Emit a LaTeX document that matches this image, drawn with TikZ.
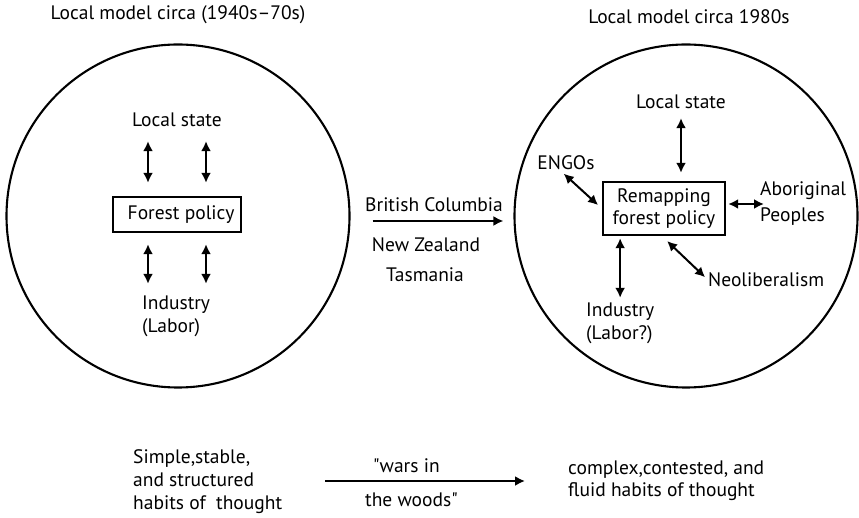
\documentclass[tikz,border=0pt]{standalone}
\usepackage{fontspec}
\setmainfont{PT Sans}
\newfontfamily\quotefont{PT Sans}
\usepackage{tikz}
\usetikzlibrary{arrows.meta, positioning, calc}
\tikzstyle{lbl} = [inner sep=0pt, align=left, font=\fontsize{19.5}{23}\selectfont]
\tikzstyle{policy} = [draw, rectangle, line width=2.4pt, inner sep=0pt, align=center, font=\fontsize{19.5}{22}\selectfont]
\tikzstyle{world} = [draw, circle, line width=2.1pt, minimum size=343pt, inner sep=0pt]
\tikzstyle{dbl} = [draw, {Latex[length=10pt,width=10pt]}-{Latex[length=10pt,width=10pt]}, line width=2pt]
\tikzstyle{arrow} = [draw, -{Latex[length=10pt,width=10pt]}, line width=2pt]

\begin{document}
\begin{tikzpicture}[x=1pt, y=-1pt]
    \useasboundingbox (0,0) rectangle (859,518);

    % Titles and circles
    \node (title1) [lbl] at (178,15) {Local model circa (1940s--70s)};
    \node (title2) [lbl] at (689,17) {Local model circa 1980s};
    \node (old) [world] at (178,216) {};
    \node (new) [world] at (686,216) {};

    % Old model
    \node (state1) [lbl] at (177,120) {Local state};
    \node (fp) [policy, minimum width=128pt, minimum height=35pt] at (177,214.5) {\hspace{8pt}Forest policy};
    \node (ind1) [lbl, anchor=west] at (142,316.5) {Industry\\(Labor)};

    \foreach \dx in {-29,29} {
        \draw [dbl, shorten <=14pt, shorten >=13pt] ([xshift=\dx pt]state1.south) -- ([xshift=\dx pt]fp.north);
        \draw [dbl, shorten <=11pt, shorten >=12pt] ($(fp.south)+(\dx,0)$) -- ($(fp.south |- ind1.north)+(\dx,0)$);
    }

    % Cases
    \node (bc) [lbl] at (434,205) {British Columbia};
    \node (nz) [lbl] at (426,245) {New Zealand};
    \node (tas) [lbl] at (425,275) {Tasmania};
    \draw [arrow, shorten <=22pt, shorten >=10pt] ([yshift=-5pt]old.east) -- ([yshift=-5pt]new.west);

    % New model
    \node (rfp) [policy, minimum width=122pt, minimum height=53pt] at (664,208.5) {Remapping\\forest policy};
    \node (state2) [lbl] at (681,102) {Local state};
    \node (engo) [lbl] at (566,163) {ENGOs};
    \node (abor) [lbl, anchor=west, font=\fontsize{19.5}{26}\selectfont] at (760,204) {Aboriginal\\Peoples};
    \node (neo) [lbl, anchor=west] at (708,280) {Neoliberalism};
    \node (ind2) [lbl, anchor=west] at (586,323.5) {Industry\\(Labor?)};

    \draw [dbl, shorten <=9pt, shorten >=8pt] (state2.south) -- (state2.south |- rfp.north);
    \draw [dbl, shorten <=5pt, shorten >=5pt] ([xshift=-6pt]engo.south) -- (rfp.west);
    \draw [dbl, shorten <=2pt] (rfp.east |- abor.west) -- ([xshift=4pt]abor.west);
    \draw [dbl, shorten <=2pt, shorten >=5pt] (ind2.north |- rfp.south) -- (ind2.north);
    \draw [dbl, shorten <=7pt, shorten >=4pt] ([xshift=-2pt]rfp.south) -- (neo.west);

    % Habits of thought
    \node (simple) [lbl, anchor=west] at (133,482) {Simple,stable,\\and structured\\habits of\ \ thought};
    \node (complex) [lbl, anchor=west, font=\fontsize{19.5}{22}\selectfont] at (568,481) {complex,contested, and\\fluid habits of thought};
    \node (wars) [lbl, anchor=west] at (373,466) {{\quotefont"}wars in};
    \node (woods) [lbl, anchor=west] at (365,500) {the woods{\quotefont"}};
    \draw [arrow, shorten <=43pt, shorten >=43pt] (complex.west -| simple.east) -- (complex.west);
\end{tikzpicture}
\end{document}
